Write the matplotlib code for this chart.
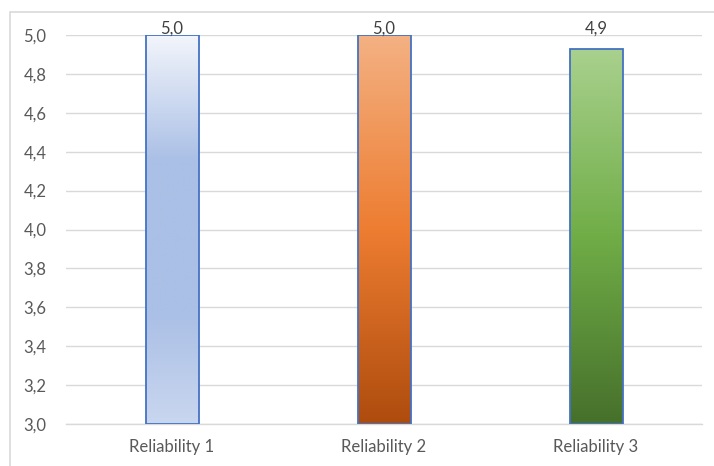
import numpy as np
import matplotlib
matplotlib.use("Agg")
import matplotlib.pyplot as plt
from matplotlib.colors import LinearSegmentedColormap
from matplotlib.patches import Rectangle

categories = ["Reliability 1", "Reliability 2", "Reliability 3"]
values = [5.0, 5.0, 4.93]
labels = ["5,0", "5,0", "4,9"]
y_ticks = [3.0, 3.2, 3.4, 3.6, 3.8, 4.0, 4.2, 4.4, 4.6, 4.8, 5.0]
y_tick_labels = ["3,0", "3,2", "3,4", "3,6", "3,8", "4,0", "4,2", "4,4", "4,6", "4,8", "5,0"]

# gradient stops from top (0) to bottom (1) for each bar
gradients = [
    [(0.0, "#f2f5fb"), (0.32, "#abc0e6"), (0.72, "#abc0e6"), (1.0, "#c9d6ef")],
    [(0.0, "#f4b183"), (0.5, "#ed7d31"), (1.0, "#ae4c0e")],
    [(0.0, "#a9d18e"), (0.5, "#70ad47"), (1.0, "#46702b")],
]

plt.rcParams["font.family"] = ["Lato", "DejaVu Sans"]

W, H = 714, 466
fig = plt.figure(figsize=(W / 100, H / 100), dpi=100)
fig.patch.set_facecolor("white")

# chart frame
fig.patches.append(Rectangle((10 / W, -0.1), 1.2, (H - 12) / H + 0.1,
                             transform=fig.transFigure, fill=False,
                             edgecolor="#d9d9d9", linewidth=1.2))

ax = fig.add_axes([66 / W, (H - 424) / H, (702 - 66) / W, (424 - 35) / H])

ymin, ymax = 3.0, 5.0
width = 0.25
x = np.arange(len(categories))
bars = ax.bar(x, [v - ymin for v in values], bottom=ymin, width=width,
              facecolor="none", edgecolor="#4472c4", linewidth=1.3, zorder=3)

grad = np.linspace(0, 1, 256).reshape(-1, 1)
for bar, stops in zip(bars, gradients):
    cmap = LinearSegmentedColormap.from_list("g", stops)
    x0 = bar.get_x()
    x1 = x0 + bar.get_width()
    y0 = bar.get_y()
    y1 = y0 + bar.get_height()
    im = ax.imshow(grad, cmap=cmap, extent=(x0, x1, y0, y1), origin="upper",
                   aspect="auto", zorder=2, interpolation="bicubic")
    im.set_clip_path(bar)

ax.set_xlim(-0.5, len(categories) - 0.5)
ax.set_ylim(ymin, ymax)

# value labels sit above the bars, kept no higher than the top of the plot
for xi, v, lab in zip(x, values, labels):
    ly = min(v + 0.07, ymax)
    ax.annotate(lab, (xi, ly), xytext=(0, -1), textcoords="offset points",
                ha="center", va="bottom", fontsize=12, color="#404040", zorder=4)

ax.set_yticks(y_ticks)
ax.set_yticklabels(y_tick_labels)
ax.set_xticks(x)
ax.set_xticklabels(categories)
ax.tick_params(axis="y", length=0, pad=14, labelsize=12, labelcolor="#595959")
ax.tick_params(axis="x", length=0, pad=11, labelsize=12, labelcolor="#595959")

ax.grid(axis="y", color="#d9d9d9", linewidth=1.0, zorder=0)
ax.set_axisbelow(True)
for s in ["left", "right", "top"]:
    ax.spines[s].set_visible(False)
ax.spines["bottom"].set_color("#d9d9d9")
ax.spines["bottom"].set_linewidth(1.0)

fig.savefig("out.png", dpi=100)
